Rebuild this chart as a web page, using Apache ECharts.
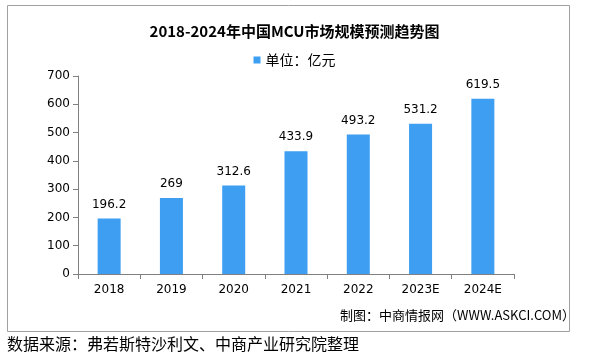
<!DOCTYPE html>
<html><head><meta charset="utf-8">
<script src="https://cdn.jsdelivr.net/npm/echarts@6/dist/echarts.min.js"></script>
<style>html,body{margin:0;padding:0;background:#fff}#c{width:589px;height:357px}</style>
</head><body><div id="c"></div>
<script>
const categories = ['2018','2019','2020','2021','2022','2023E','2024E'];
const values = [196.2, 269, 312.6, 433.9, 493.2, 531.2, 619.5];
const yTicks = [0,100,200,300,400,500,600,700];
const titleText = '2018-2024年中国MCU市场规模预测趋势图';
const seriesName = '单位：亿元';
const credit = '制图：中商情报网（WWW.ASKCI.COM）';
const source = '数据来源：弗若斯特沙利文、中商产业研究院整理';

const chart = echarts.init(document.getElementById('c'), null, {renderer:'canvas'});
const cjk = '"Noto Sans CJK SC", sans-serif';
chart.setOption({
  animation:false,
  backgroundColor:'#fff',
  title:{text:titleText, left:'center', top:19, textStyle:{fontFamily:cjk, fontSize:15, fontWeight:'bold', color:'#000'}},
  legend:{data:[seriesName], top:48, left:'center', itemWidth:7, itemHeight:7, itemGap:7, textStyle:{fontFamily:cjk, fontSize:14, color:'#000'}, icon:'rect'},
  grid:{left:78, right:75, top:76, bottom:83, containLabel:false},
  xAxis:{type:'category', data:categories, axisLine:{lineStyle:{color:'#808080'}}, axisTick:{show:true, alignWithLabel:false, length:5, lineStyle:{color:'#808080'}}, axisLabel:{color:'#000', fontSize:12, margin:10, fontFamily:'"DejaVu Sans", sans-serif'}},
  yAxis:{type:'value', min:0, max:700, interval:100, axisLine:{show:true, lineStyle:{color:'#808080'}}, axisTick:{show:true, length:5, lineStyle:{color:'#808080'}}, splitLine:{show:false}, axisLabel:{color:'#000', fontSize:12, margin:8, fontFamily:'"DejaVu Sans", sans-serif'}},
  series:[{name:seriesName, type:'bar', data:values, barWidth:23, itemStyle:{color:'#3d9ef2'}, label:{show:true, position:'top', distance:8, color:'#000', fontSize:12, fontFamily:'"DejaVu Sans", sans-serif'}}],
  graphic:[
    {type:'rect', shape:{x:7.5, y:5.5, width:562, height:326}, style:{fill:null, stroke:'#a0a0a0', lineWidth:1}, silent:true, z:-1},
    {type:'text', right:14, top:309, style:{text:credit, fontFamily:cjk, fontSize:13, fill:'#000'}},
    {type:'text', left:7, top:336, style:{text:source, fontFamily:cjk, fontSize:16, fill:'#000'}}
  ]
});
</script></body></html>
